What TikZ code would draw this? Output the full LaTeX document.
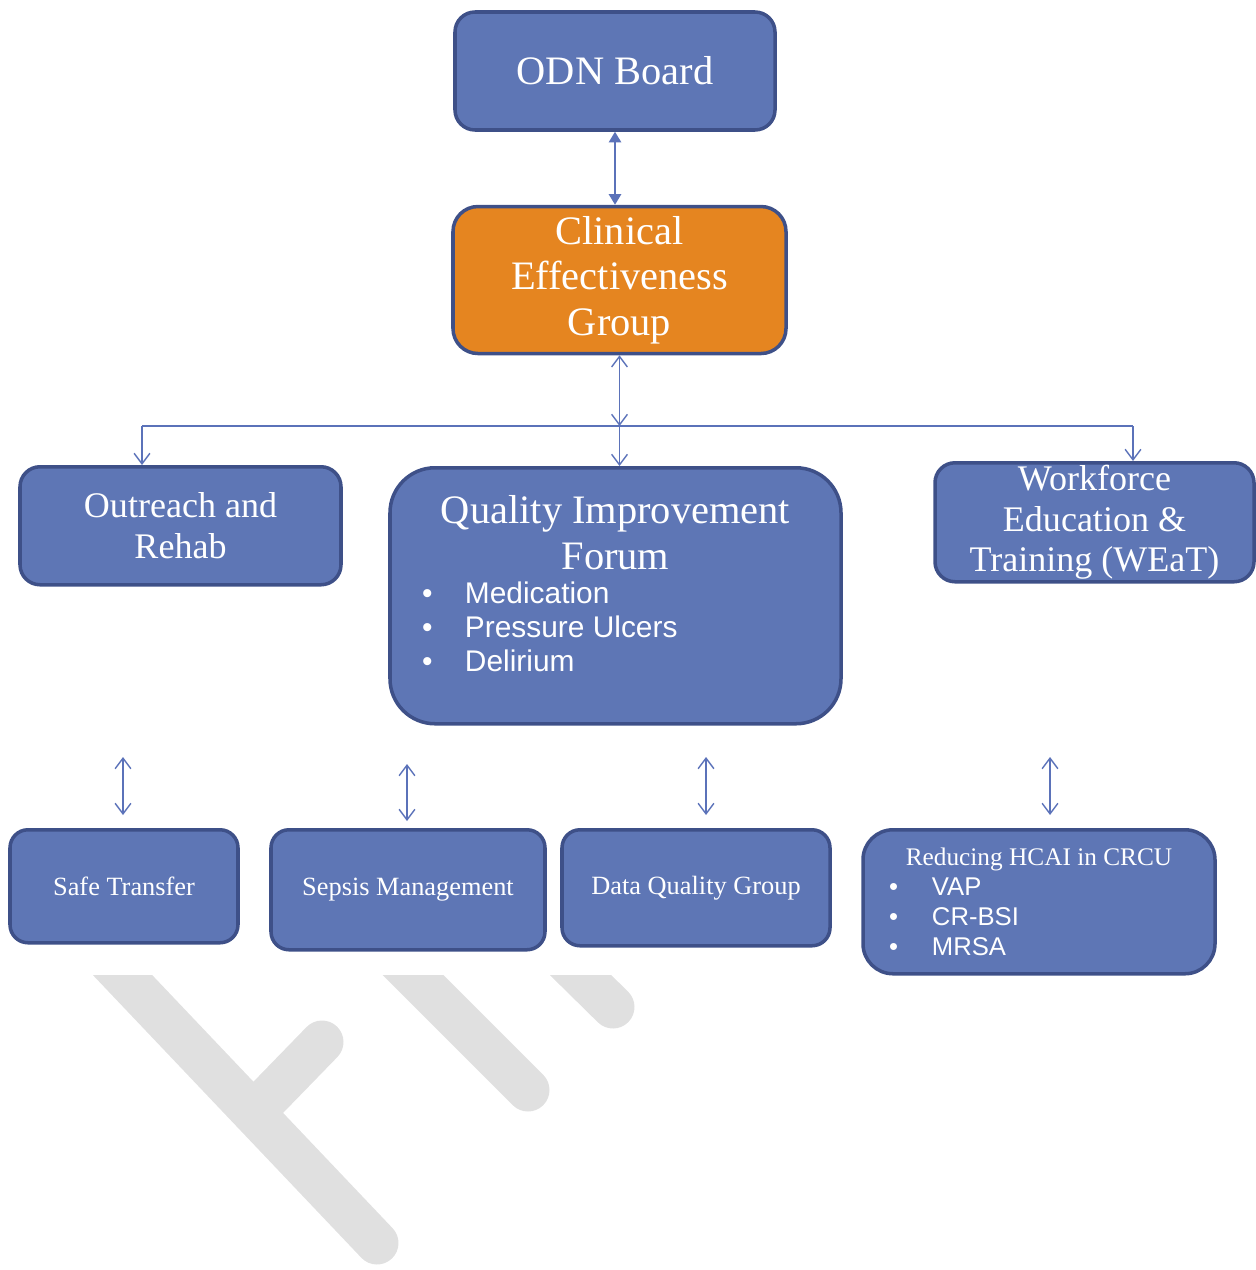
\documentclass[tikz,border=0pt]{standalone}
\usepackage{fontspec}
\setmainfont{Liberation Serif}
\setsansfont{Liberation Sans}
\usetikzlibrary{positioning}
\usetikzlibrary{arrows.meta}
\definecolor{boxblue}{RGB}{94,118,181}
\definecolor{boxedge}{RGB}{62,80,136}
\definecolor{cegorange}{RGB}{229,133,32}
\definecolor{linkblue}{RGB}{91,114,185}
\definecolor{markgray}{RGB}{224,224,224}
\newcommand{\bitem}[1]{\hspace*{0.3cm}\makebox[0.86cm][l]{\textbullet}#1}

\begin{document}
\begin{tikzpicture}[line width=0.8pt,>={Straight Barb[length=6pt,width=9pt]},
  box/.style={draw=boxedge,line width=2pt,fill=boxblue,rounded corners=0.4cm,text=white,align=center,inner sep=0pt},
  link/.style={draw=linkblue,line width=0.8pt},
  wmstroke/.style={markgray,line width=0.86cm,line cap=round},
  bigfont/.style={font=\fontsize{23}{26}\selectfont},
  midfont/.style={font=\fontsize{20.5}{23}\selectfont},
  smallfont/.style={font=\fontsize{15}{17}\selectfont}]
  \useasboundingbox (0,0) rectangle (25.1,-25.4);
  \begin{scope}
    \clip (0,-19.5) rectangle (25.1,-25.4);
    \draw[wmstroke] (1.88,-18.9) -- (7.54,-24.86);
    \draw[wmstroke] (5.07,-22.25) -- (6.44,-20.84);
    \draw[wmstroke] (7.66,-18.9) -- (10.56,-21.8);
    \draw[wmstroke] (11.0,-18.9) -- (12.26,-20.14);
  \end{scope}
  \node[box,bigfont,minimum width=6.4cm,minimum height=2.36cm] (odn) at (12.3,-1.42) {ODN Board};
  \node[box,bigfont,fill=cegorange,rounded corners=0.5cm,minimum width=6.66cm,minimum height=2.94cm,below=1.46cm of odn,xshift=0.09cm] (ceg) {Clinical\\Effectiveness\\Group};
  \node[box,midfont,anchor=north,minimum width=6.42cm,minimum height=2.36cm] (outreach) at (3.61,-9.3) {Outreach and\\Rehab};
  \node[box,bigfont,anchor=north,rounded corners=0.9cm,minimum width=9.02cm,minimum height=5.12cm] (qif) at (12.31,-9.32)
    {\parbox{8.34cm}{\centering Quality Improvement\\Forum\par
     \raggedright\sffamily\fontsize{17}{19.5}\selectfont\bitem{Medication}\\\bitem{Pressure Ulcers}\\\bitem{Delirium}\par\vspace*{0.48cm}}};
  \node[box,midfont,anchor=north,minimum width=6.38cm,minimum height=2.38cm] (weat) at (21.89,-9.22) {Workforce\\Education \&\\Training (WEaT)};
  \node[box,smallfont,anchor=north,rounded corners=0.36cm,minimum width=4.56cm,minimum height=2.26cm] (safe) at (2.48,-16.56) {Safe Transfer};
  \node[box,smallfont,anchor=north,rounded corners=0.36cm,minimum width=5.48cm,minimum height=2.4cm] (sepsis) at (8.16,-16.56) {Sepsis Management};
  \node[box,smallfont,anchor=north,rounded corners=0.36cm,minimum width=5.36cm,minimum height=2.32cm] (dq) at (13.92,-16.56) {Data Quality Group};
  \node[box,font=\fontsize{14.4}{17}\selectfont,anchor=north,rounded corners=0.6cm,minimum width=7.04cm,minimum height=2.88cm] (hcai) at (20.78,-16.56)
    {\parbox{6.6cm}{\centering Reducing HCAI in CRCU\par
     \raggedright\sffamily\fontsize{14.6}{17}\selectfont\bitem{VAP}\\\bitem{CR-BSI}\\\bitem{MRSA}}};
  \coordinate (busl) at (2.84,-8.52);
  \coordinate (busr) at (22.66,-8.52);
  \coordinate (up1) at (2.46,-15.14);
  \coordinate (up2) at (8.14,-15.28);
  \coordinate (up3) at (14.12,-15.14);
  \coordinate (up4) at (21.0,-15.14);
  \draw[link,{Triangle[length=6pt,width=7pt]}-{Triangle[length=6pt,width=7pt]}] (odn.south) -- (odn.south |- ceg.north);
  \draw[link,<->] (ceg.south) -- (ceg.south |- busl);
  \draw[link] (busl) -- (busr);
  \draw[link,->] (busl) -- (busl |- outreach.north);
  \draw[link,->] (ceg.south |- busl) -- (ceg.south |- qif.north);
  \draw[link,->] (busr) -- (busr |- weat.north);
  \draw[link,<->,shorten >=0.26cm] (up1) -- (up1 |- safe.north);
  \draw[link,<->,shorten >=0.14cm] (up2) -- (up2 |- sepsis.north);
  \draw[link,<->,shorten >=0.26cm] (up3) -- (up3 |- dq.north);
  \draw[link,<->,shorten >=0.26cm] (up4) -- (up4 |- hcai.north);
\end{tikzpicture}
\end{document}
